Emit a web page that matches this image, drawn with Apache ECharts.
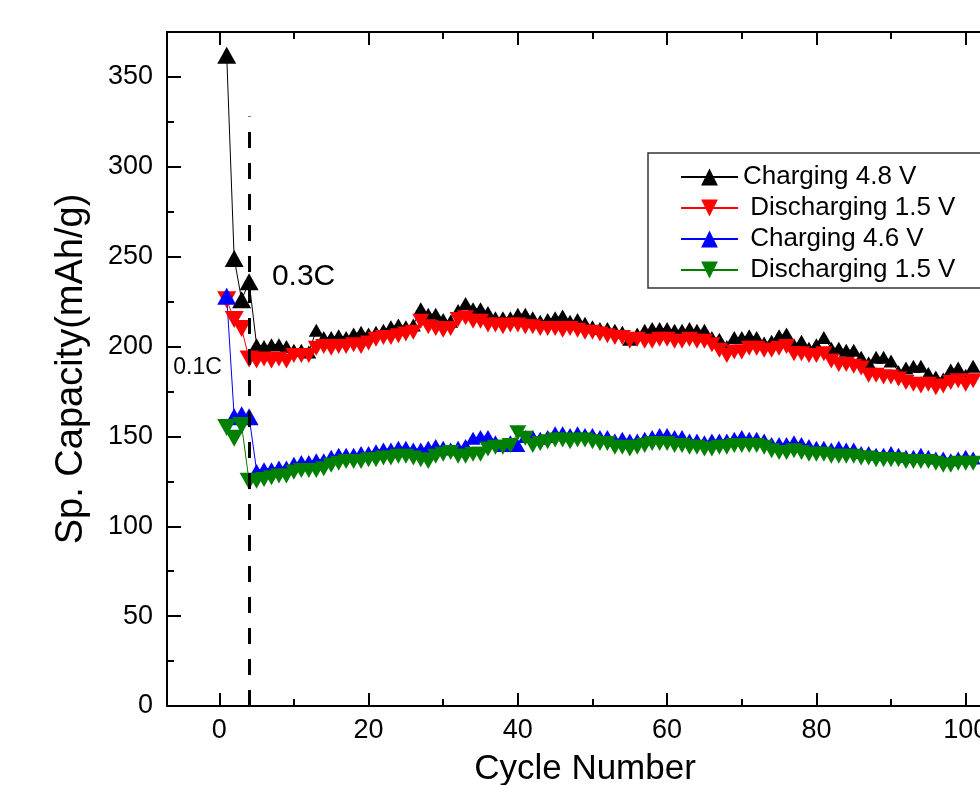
<!DOCTYPE html>
<html>
<head>
<meta charset="utf-8">
<script src="https://cdn.jsdelivr.net/npm/echarts@6/dist/echarts.min.js"></script>
<style>
  html, body { margin: 0; padding: 0; background: #fff; }
  #chart { width: 980px; height: 785px; }
</style>
</head>
<body>
<div id="chart"></div>
<script>
// Specific capacity (mAh/g) per cycle, cycles 1..101
const charge48 = [
  362, 249, 226, 236, 201, 200, 201, 201, 200, 198,
  198, 197, 209, 205, 205, 206, 205, 207, 208, 207,
  208, 209, 211, 212, 211, 212, 221, 218, 218, 215,
  214, 220, 224, 221, 221, 219, 216, 216, 216, 218,
  218, 216, 214, 215, 216, 217, 214, 215, 213, 211,
  210, 210, 209, 208, 204, 207, 209, 210, 210, 210,
  209, 209, 210, 209, 209, 205, 204, 200, 205, 205,
  206, 205, 202, 203, 206, 207, 201, 203, 199, 201,
  205, 199, 199, 198, 198, 194, 191, 194, 194, 192,
  186, 188, 189, 189, 185, 183, 182, 187, 188, 184,
  189
];
const discharge15a = [
  226, 215, 210, 193, 192, 193, 192, 193, 192, 195,
  195, 195, 199, 200, 199, 200, 200, 201, 200, 202,
  204, 205, 205, 206, 207, 208, 214, 211, 210, 209,
  210, 215, 216, 214, 214, 212, 212, 211, 212, 212,
  211, 211, 210, 210, 210, 209, 210, 209, 208, 208,
  207, 206, 205, 205, 203, 204, 203, 203, 204, 204,
  203, 203, 204, 203, 203, 201, 198, 195, 197, 197,
  199, 199, 198, 198, 199, 200, 196, 196, 195, 195,
  196, 192, 190, 190, 189, 188, 184, 184, 183, 183,
  182, 180, 179, 178, 179, 177, 178, 180, 181, 179,
  181
];
const charge46 = [
  228, 161, 162, 161, 131, 132, 132, 133, 133, 135,
  136, 136, 137, 137, 139, 140, 140, 140, 141, 141,
  142, 143, 143, 144, 144, 143, 143, 144, 145, 144,
  143, 144, 145, 149, 150, 150, 147, 145, 147, 145,
  150, 150, 149, 150, 152, 152, 151, 152, 151, 151,
  150, 150, 148, 149, 148, 148, 149, 150, 151, 151,
  150, 150, 148, 148, 147, 148, 148, 148, 149, 150,
  149, 149, 148, 146, 146, 146, 147, 146, 145, 144,
  144, 143, 144, 143, 143, 141, 141, 140, 140, 141,
  140, 139, 139, 140, 139, 138, 138, 137, 138, 139,
  138
];
const discharge15b = [
  155, 149, 156, 125, 125, 126, 127, 128, 128, 130,
  131, 131, 131, 132, 134, 135, 136, 136, 136, 137,
  137, 138, 138, 139, 139, 138, 137, 136, 139, 140,
  141, 139, 139, 140, 140, 143, 144, 144, 145, 152,
  149, 145, 146, 147, 148, 148, 147, 148, 148, 147,
  146, 146, 144, 144, 143, 144, 145, 146, 146, 146,
  145, 145, 144, 144, 143, 143, 144, 144, 145, 145,
  145, 145, 144, 142, 141, 141, 142, 141, 140, 140,
  140, 139, 139, 139, 139, 138, 138, 137, 137, 137,
  137, 136, 136, 136, 136, 135, 134, 134, 135, 135,
  135
];
const cycles = charge48.map((_, i) => i + 1);

const seriesNames = ['Charging 4.8 V', ' Discharging 1.5 V', ' Charging 4.6 V', ' Discharging 1.5 V '];

// Axis ticks and labels
const xMajorTicks = [0, 20, 40, 60, 80, 100];
const xMinorTicks = [10, 30, 50, 70, 90];
const yMajorTicks = [0, 50, 100, 150, 200, 250, 300, 350];
const yMinorTicks = [25, 75, 125, 175, 225, 275, 325];

// Rate switch between the 0.1C and 0.3C cycling
const rateSwitchCycle = 4;

const FONT = 'Liberation Sans, Arial, sans-serif';
const X_MIN = -7, X_MAX = 105;
const Y_MIN = 0, Y_MAX = 375;

function pairs(values) {
  return values.map((v, i) => [cycles[i], v]);
}

function xAxisDef(position, ticks, len, withLine, withLabels) {
  return {
    type: 'value', position: position, min: X_MIN, max: X_MAX,
    axisLine: { show: withLine, onZero: false, lineStyle: { color: '#000', width: 2 } },
    axisTick: { show: true, inside: true, length: len, customValues: ticks,
                lineStyle: { color: '#000', width: 2 } },
    axisLabel: withLabels
      ? { show: true, customValues: ticks, color: '#000', fontFamily: FONT, fontSize: 27, margin: 11 }
      : { show: false },
    splitLine: { show: false }
  };
}
function yAxisDef(ticks, len, withLine, withLabels) {
  return {
    type: 'value', position: 'left', min: Y_MIN, max: Y_MAX,
    axisLine: { show: withLine, onZero: false, lineStyle: { color: '#000', width: 2 } },
    axisTick: { show: true, inside: true, length: len, customValues: ticks,
                lineStyle: { color: '#000', width: 2 } },
    axisLabel: withLabels
      ? { show: true, customValues: ticks, color: '#000', fontFamily: FONT, fontSize: 27, margin: 14 }
      : { show: false },
    splitLine: { show: false }
  };
}

const xMain = xAxisDef('bottom', xMajorTicks, 13, true, true);
xMain.name = 'Cycle Number';
xMain.nameLocation = 'middle';
xMain.nameGap = 46;
xMain.nameTextStyle = { color: '#000', fontFamily: FONT, fontSize: 35 };

const yMain = yAxisDef(yMajorTicks, 14, true, true);
yMain.name = 'Sp. Capacity(mAh/g)';
yMain.nameLocation = 'middle';
yMain.nameGap = 76;
yMain.nameTextStyle = { color: '#000', fontFamily: FONT, fontSize: 38 };

function lineSeries(name, values, color, down, small, big) {
  return {
    name: name,
    type: 'line',
    data: pairs(values),
    symbol: 'triangle',
    symbolRotate: down ? 180 : 0,
    symbolSize: (val, params) => params.dataIndex < rateSwitchCycle ? big : small,
    showAllSymbol: true,
    lineStyle: { color: color, width: 1 },
    itemStyle: { color: color },
    emphasis: { disabled: true },
    animation: false
  };
}

const sBlack = lineSeries(seriesNames[0], charge48, '#000000', false, [15, 13], [19, 17]);
sBlack.markLine = {
  silent: true, symbol: ['none', 'none'], animation: false,
  label: { show: false },
  lineStyle: { color: '#000', width: 3, type: [16, 15] },
  data: [[{ coord: [rateSwitchCycle, 0] }, { coord: [rateSwitchCycle, 328] }]]
};
sBlack.markPoint = {
  silent: true, animation: false,
  symbol: 'circle', symbolSize: 0,
  label: { show: true, position: 'inside', color: '#000', fontFamily: FONT },
  data: [
    { coord: [11.3, 239], label: { formatter: '0.3C', fontSize: 30 } },
    { coord: [-2.9, 188], label: { formatter: '0.1C', fontSize: 23 } }
  ]
};

const option = {
  backgroundColor: '#fff',
  animation: false,
  grid: { left: 167, top: 32, right: -23, bottom: 79, containLabel: false, outerBoundsMode: 'none' },
  xAxis: [
    xMain,
    xAxisDef('bottom', xMinorTicks, 7, false, false),
    xAxisDef('top', xMajorTicks, 13, true, false),
    xAxisDef('top', xMinorTicks, 7, false, false)
  ],
  yAxis: [
    yMain,
    yAxisDef(yMinorTicks, 7, false, false)
  ],
  legend: {
    data: seriesNames,
    orient: 'vertical',
    left: 648, top: 153,
    padding: [11, 20, 5, 32],
    itemWidth: 57, itemHeight: 21, itemGap: 5,
    borderColor: '#333', borderWidth: 1.5,
    textStyle: { color: '#000', fontFamily: FONT, fontSize: 26 },
    selectedMode: false
  },
  series: [
    sBlack,
    lineSeries(seriesNames[1], discharge15a, '#ff0000', true, [17, 15], [19, 17]),
    lineSeries(seriesNames[2], charge46, '#0000ff', false, [15, 13], [19, 17]),
    lineSeries(seriesNames[3], discharge15b, '#008000', true, [17, 15], [19, 17])
  ]
};

const chart = echarts.init(document.getElementById('chart'), null, { renderer: 'canvas' });
chart.setOption(option);
</script>
</body>
</html>
